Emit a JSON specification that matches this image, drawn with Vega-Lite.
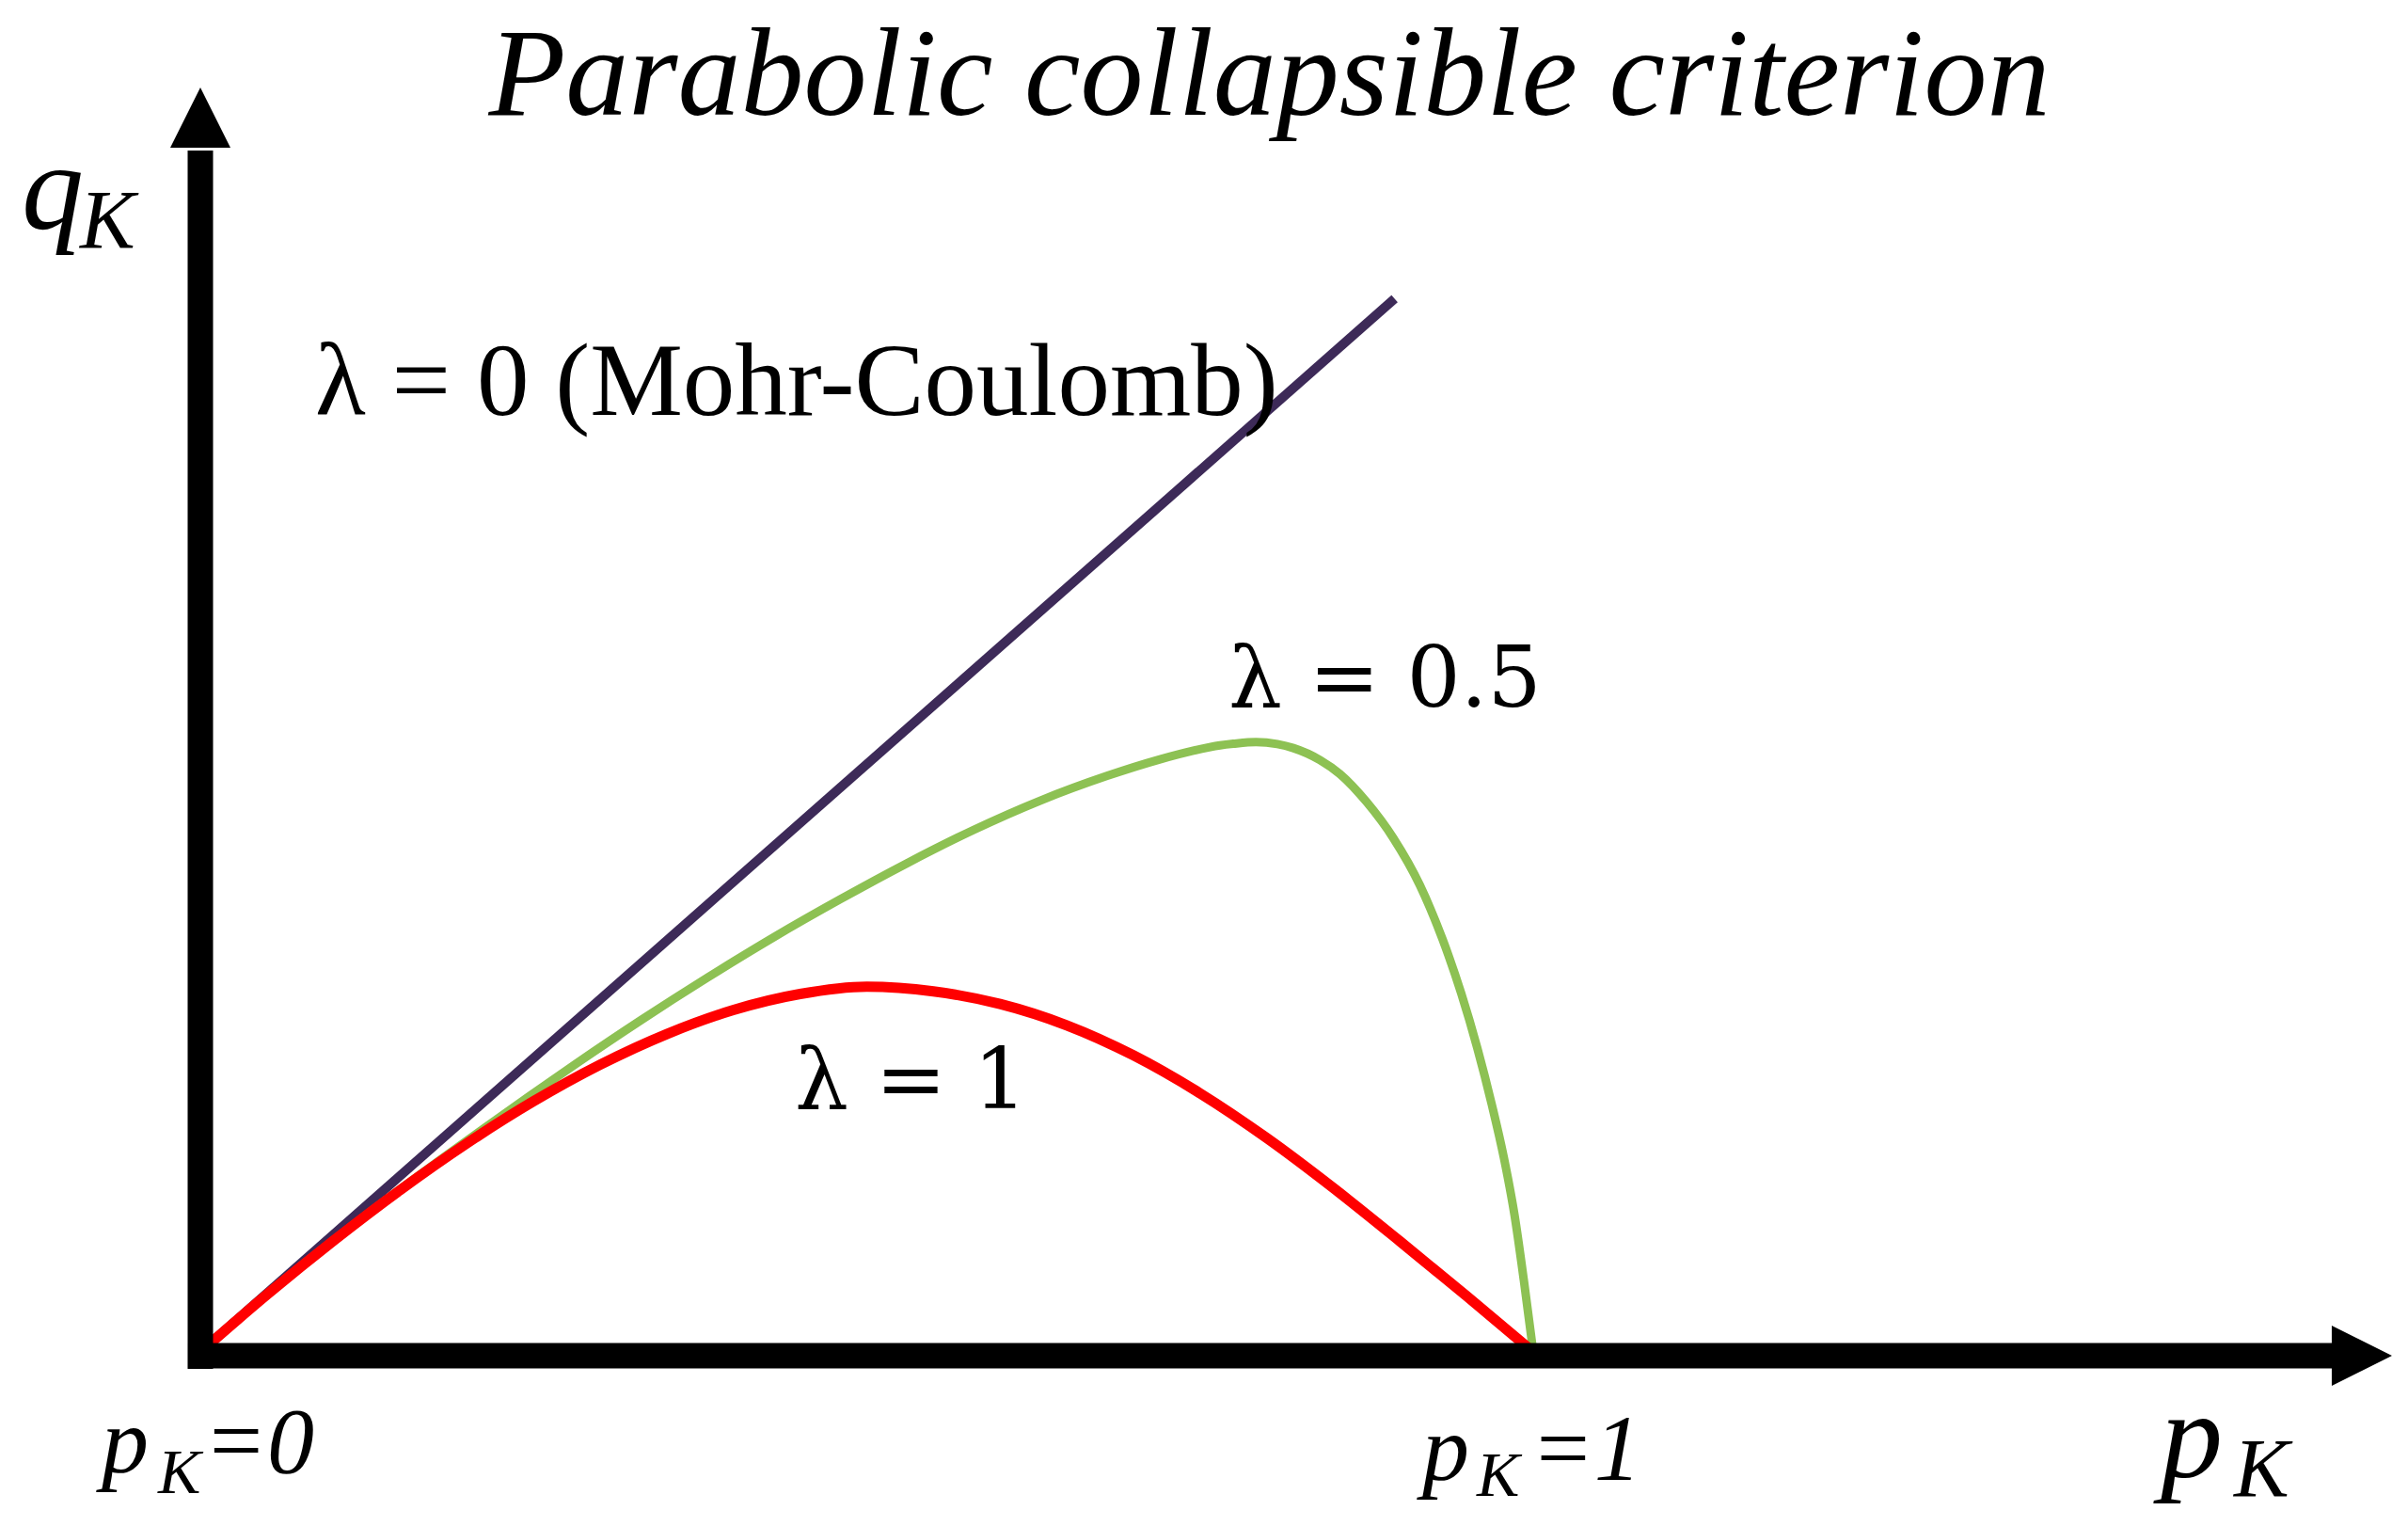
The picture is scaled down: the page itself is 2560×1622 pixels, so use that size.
{
  "$schema": "https://vega.github.io/schema/vega-lite/v6.json",
  "width": 2560,
  "height": 1622,
  "autosize": {"type": "none"},
  "padding": 0,
  "background": "white",
  "config": {"view": {"stroke": null}},
  "datasets": {
    "curves": [
      {"s": "mc", "p": 0, "q": 0}, {"s": "mc", "p": 0.896, "q": 0.79},
      {"s": "g", "p": 0, "q": 0}, {"s": "g", "p": 0.0353, "q": 0.0311}, {"s": "g", "p": 0.0706, "q": 0.0605}, {"s": "g", "p": 0.1059, "q": 0.0885},
      {"s": "g", "p": 0.1411, "q": 0.1155}, {"s": "g", "p": 0.1764, "q": 0.1415}, {"s": "g", "p": 0.2117, "q": 0.167}, {"s": "g", "p": 0.247, "q": 0.192},
      {"s": "g", "p": 0.2823, "q": 0.2165}, {"s": "g", "p": 0.33, "q": 0.2485}, {"s": "g", "p": 0.38, "q": 0.2805}, {"s": "g", "p": 0.43, "q": 0.311},
      {"s": "g", "p": 0.48, "q": 0.3395}, {"s": "g", "p": 0.53, "q": 0.3665}, {"s": "g", "p": 0.58, "q": 0.3915}, {"s": "g", "p": 0.63, "q": 0.4135},
      {"s": "g", "p": 0.68, "q": 0.432}, {"s": "g", "p": 0.72, "q": 0.4445}, {"s": "g", "p": 0.745, "q": 0.451}, {"s": "g", "p": 0.765, "q": 0.455},
      {"s": "g", "p": 0.775, "q": 0.4562}, {"s": "g", "p": 0.792, "q": 0.4575}, {"s": "g", "p": 0.808, "q": 0.456}, {"s": "g", "p": 0.82, "q": 0.453},
      {"s": "g", "p": 0.84, "q": 0.444},
      {"s": "g", "p": 0.855, "q": 0.4335}, {"s": "g", "p": 0.875, "q": 0.4125},
      {"s": "g", "p": 0.895, "q": 0.3855}, {"s": "g", "p": 0.915, "q": 0.35}, {"s": "g", "p": 0.932, "q": 0.3095}, {"s": "g", "p": 0.946, "q": 0.2689},
      {"s": "g", "p": 0.958, "q": 0.2281}, {"s": "g", "p": 0.969, "q": 0.1852}, {"s": "g", "p": 0.978, "q": 0.1456}, {"s": "g", "p": 0.986, "q": 0.1025},
      {"s": "g", "p": 0.993, "q": 0.0535}, {"s": "g", "p": 1.0, "q": 0},
      {"s": "r", "p": 0, "q": 0}, {"s": "r", "p": 0.05, "q": 0.043}, {"s": "r", "p": 0.1, "q": 0.0835}, {"s": "r", "p": 0.15, "q": 0.1215},
      {"s": "r", "p": 0.2, "q": 0.1565}, {"s": "r", "p": 0.25, "q": 0.188}, {"s": "r", "p": 0.3, "q": 0.2155}, {"s": "r", "p": 0.35, "q": 0.2385},
      {"s": "r", "p": 0.4, "q": 0.2565}, {"s": "r", "p": 0.45, "q": 0.2685}, {"s": "r", "p": 0.5, "q": 0.274}, {"s": "r", "p": 0.55, "q": 0.2705},
      {"s": "r", "p": 0.6, "q": 0.261}, {"s": "r", "p": 0.65, "q": 0.245}, {"s": "r", "p": 0.7, "q": 0.2225}, {"s": "r", "p": 0.75, "q": 0.194},
      {"s": "r", "p": 0.8, "q": 0.1605}, {"s": "r", "p": 0.85, "q": 0.123}, {"s": "r", "p": 0.9, "q": 0.083}, {"s": "r", "p": 0.95, "q": 0.042},
      {"s": "r", "p": 1.0, "q": 0}
    ],
    "axes": [
      {"axis": "y", "p": 0, "q": -0.0127, "p2": 0, "q2": 0.9012},
      {"axis": "x", "p": -0.0092, "q": -0.0028, "p2": 1.6013, "q2": -0.0028}
    ],
    "heads": [
      {"dir": "up", "p": 0, "q": 0.9259},
      {"dir": "right", "p": 1.6217, "q": -0.0028}
    ],
    "labels": [
      {"kind": "title", "text": "Parabolic collapsible criterion", "p": 0.802, "q": 0.928},
      {"kind": "big", "text": "q", "p": -0.1341, "q": 0.8426},
      {"kind": "bigsub", "text": "K", "p": -0.0903, "q": 0.8285},
      {"kind": "big", "text": "p", "p": 1.4707, "q": -0.0939},
      {"kind": "bigsub", "text": "K", "p": 1.5258, "q": -0.108},
      {"kind": "med", "text": "p", "p": -0.0741, "q": -0.0903},
      {"kind": "medsub", "text": "K", "p": -0.0318, "q": -0.1059},
      {"kind": "med", "text": "=0", "p": 0.0024, "q": -0.0903},
      {"kind": "med", "text": "p", "p": 0.9167, "q": -0.096},
      {"kind": "medsub", "text": "K", "p": 0.9577, "q": -0.108},
      {"kind": "med", "text": "=1", "p": 0.998, "q": -0.096},
      {"kind": "mc", "text": "λ = 0 (Mohr-Coulomb)", "p": 0.0861, "q": 0.7029},
      {"kind": "lam", "text": "λ = 0.5", "p": 0.7713, "q": 0.4841},
      {"kind": "lam", "text": "λ = 1", "p": 0.446, "q": 0.1828}
    ]
  },
  "encoding": {
    "x": {"field": "p", "type": "quantitative", "scale": {"domain": [-0.150318, 1.656316], "nice": false, "zero": false}, "axis": null},
    "y": {"field": "q", "type": "quantitative", "scale": {"domain": [-0.130557, 1.014114], "nice": false, "zero": false}, "axis": null}
  },
  "layer": [
    {
      "data": {"name": "curves"},
      "transform": [{"filter": "datum.s === 'mc'"}],
      "mark": {"type": "line", "color": "#3d2a58", "strokeWidth": 10, "strokeCap": "butt"}
    },
    {
      "data": {"name": "curves"},
      "transform": [{"filter": "datum.s === 'g'"}],
      "mark": {"type": "line", "color": "#8dc153", "strokeWidth": 9, "interpolate": "monotone", "strokeCap": "butt"}
    },
    {
      "data": {"name": "curves"},
      "transform": [{"filter": "datum.s === 'r'"}],
      "mark": {"type": "line", "color": "#ff0000", "strokeWidth": 11, "interpolate": "monotone", "strokeCap": "butt"}
    },
    {
      "data": {"name": "axes"},
      "mark": {"type": "rule", "color": "black", "strokeWidth": 27, "strokeCap": "butt"},
      "encoding": {"x2": {"field": "p2"}, "y2": {"field": "q2"}}
    },
    {
      "data": {"name": "heads"},
      "transform": [{"filter": "datum.dir === 'up'"}],
      "mark": {"type": "point", "shape": "M0,-1L1,1L-1,1Z", "size": 4096, "filled": true, "color": "black", "opacity": 1, "strokeWidth": 0}
    },
    {
      "data": {"name": "heads"},
      "transform": [{"filter": "datum.dir === 'right'"}],
      "mark": {"type": "point", "shape": "M1,0L-1,1L-1,-1Z", "size": 4096, "filled": true, "color": "black", "opacity": 1, "strokeWidth": 0}
    },
    {
      "data": {"name": "labels"},
      "transform": [{"filter": "datum.kind === 'title'"}],
      "mark": {"type": "text", "font": "Liberation Serif", "fontStyle": "italic", "fontSize": 134, "align": "center", "baseline": "alphabetic", "color": "black"},
      "encoding": {"text": {"field": "text"}}
    },
    {
      "data": {"name": "labels"},
      "transform": [{"filter": "datum.kind === 'big'"}],
      "mark": {"type": "text", "font": "Liberation Serif", "fontStyle": "italic", "fontSize": 132, "align": "left", "baseline": "alphabetic", "color": "black"},
      "encoding": {"text": {"field": "text"}}
    },
    {
      "data": {"name": "labels"},
      "transform": [{"filter": "datum.kind === 'bigsub'"}],
      "mark": {"type": "text", "font": "Liberation Serif", "fontStyle": "italic", "fontSize": 88, "align": "left", "baseline": "alphabetic", "color": "black"},
      "encoding": {"text": {"field": "text"}}
    },
    {
      "data": {"name": "labels"},
      "transform": [{"filter": "datum.kind === 'med'"}],
      "mark": {"type": "text", "font": "Liberation Serif", "fontStyle": "italic", "fontSize": 100, "align": "left", "baseline": "alphabetic", "color": "black"},
      "encoding": {"text": {"field": "text"}}
    },
    {
      "data": {"name": "labels"},
      "transform": [{"filter": "datum.kind === 'medsub'"}],
      "mark": {"type": "text", "font": "Liberation Serif", "fontStyle": "italic", "fontSize": 68, "align": "left", "baseline": "alphabetic", "color": "black"},
      "encoding": {"text": {"field": "text"}}
    },
    {
      "data": {"name": "labels"},
      "transform": [{"filter": "datum.kind === 'mc'"}],
      "mark": {"type": "text", "font": "Liberation Serif", "fontSize": 111, "align": "left", "baseline": "alphabetic", "color": "black"},
      "encoding": {"text": {"field": "text"}}
    },
    {
      "data": {"name": "labels"},
      "transform": [{"filter": "datum.kind === 'lam'"}],
      "mark": {"type": "text", "font": "DejaVu Serif", "fontSize": 90, "align": "left", "baseline": "alphabetic", "color": "black"},
      "encoding": {"text": {"field": "text"}}
    }
  ]
}
